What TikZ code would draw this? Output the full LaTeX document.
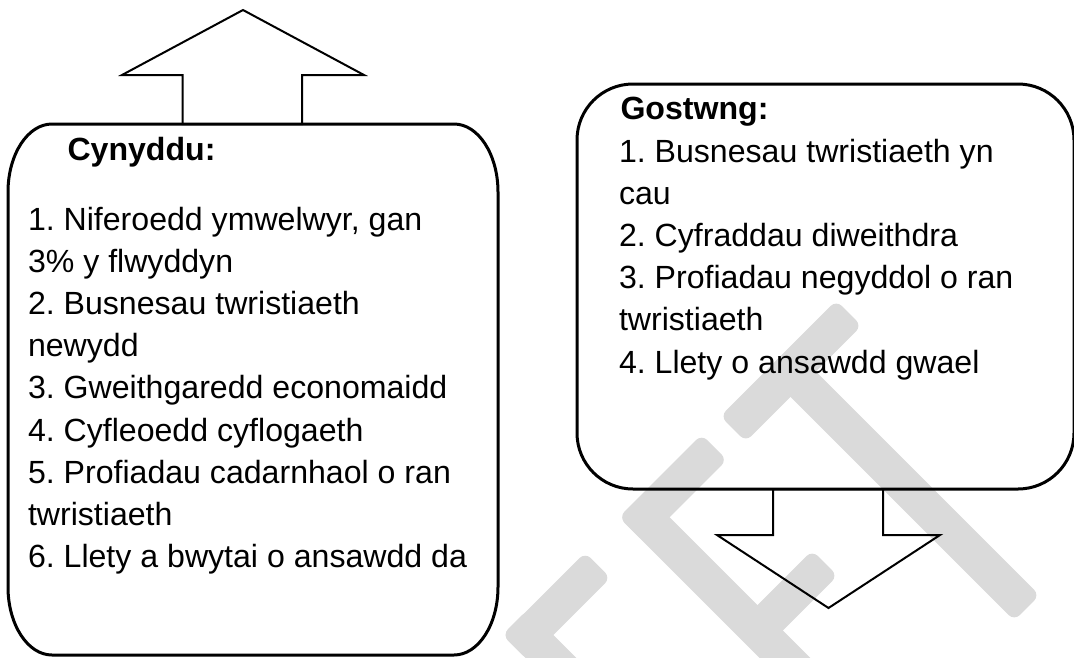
\documentclass[tikz,border=0pt]{standalone}
\usepackage{fontspec}
\setmainfont[Ligatures=NoCommon]{Liberation Sans}
\frenchspacing
\definecolor{wmgray}{RGB}{218,218,218}
\tikzset{
  wm/.style={fill=wmgray, draw=none, rounded corners=8pt, minimum height=36pt, inner sep=0pt, outer sep=0pt},
  boxline/.style={line width=3pt, draw=black},
  arrowline/.style={line width=2pt, draw=black, line join=miter},
  txt/.style={anchor=base west, inner sep=0pt, outer sep=0pt, font=\fontsize{32.1}{42}\selectfont\frenchspacing},
  headtxt/.style={txt, font=\fontsize{32.1}{42}\selectfont\bfseries\frenchspacing}
}
\begin{document}
\begin{tikzpicture}[x=1pt,y=-1pt]
\useasboundingbox (0,0) rectangle (1074,657);
% watermark (partial "DRAFFT")
\node[wm, minimum width=117pt, rotate=45]  (wmA) at (556.5,606.5) {};
\node[wm, minimum width=120pt, rotate=-45] (wmB) at (557.5,664.5) {};
\node[wm, minimum width=117pt, rotate=45]  (wmC) at (673,488.5) {};
\node[wm, minimum width=266pt, rotate=-45] (wmD) at (726,599) {};
\node[wm, minimum width=96pt, rotate=45]   (wmE) at (791,597) {};
\node[wm, minimum width=164pt, rotate=45]  (wmF) at (791,371) {};
\node[wm, minimum width=335pt, rotate=-45] (wmG) at (908.5,489.5) {};
% left box
\draw[boxline] (52,124) -- (454,124) .. controls (478.3,124) and (498,154.44) .. (498,192)
  -- (498,587) .. controls (498,624.56) and (478.3,655) .. (454,655)
  -- (52,655) .. controls (27.7,655) and (8,624.56) .. (8,587)
  -- (8,192) .. controls (8,154.44) and (27.7,124) .. (52,124) -- cycle;
% right box
\draw[boxline, rounded corners=56pt] (577,84) rectangle (1074,489);
% up arrow
\draw[arrowline] (182.5,124) -- (182.5,75) -- (122,75) -- (243,10) -- (364,75) -- (302,75) -- (302,124) -- cycle;
% down arrow
\draw[arrowline] (773,489) -- (773,535) -- (717,535) -- (828.5,608) -- (940,535) -- (883,535) -- (883,489) -- cycle;
% left text
\node[headtxt] (lh) at (67.5,160) {Cynyddu:};
\node[txt] (l1) at (28,230) {1. Niferoedd ymwelwyr, gan};
\node[txt] (l2) at (28,272.2) {3\% y flwyddyn};
\node[txt] (l3) at (28,314.4) {2. Busnesau twristiaeth};
\node[txt] (l4) at (28,356.6) {newydd};
\node[txt] (l5) at (28,398.8) {3. Gweithgaredd economaidd};
\node[txt] (l6) at (28,441) {4. Cyfleoedd cyflogaeth};
\node[txt] (l7) at (28,483.2) {5. Profiadau cadarnhaol o ran};
\node[txt] (l8) at (28,525.4) {twristiaeth};
\node[txt] (l9) at (28,567.6) {6. Llety a bwytai o ansawdd da};
% right text
\node[headtxt] (rh) at (620.5,119.8) {Gostwng:};
\node[txt] (r1) at (619,162) {1. Busnesau twristiaeth yn};
\node[txt] (r2) at (619,204.2) {cau};
\node[txt] (r3) at (619,246.4) {2. Cyfraddau diweithdra};
\node[txt] (r4) at (619,288.6) {3. Profiadau negyddol o ran};
\node[txt] (r5) at (619,330.8) {twristiaeth};
\node[txt] (r6) at (619,373) {4. Llety o ansawdd gwael};
\end{tikzpicture}
\end{document}
